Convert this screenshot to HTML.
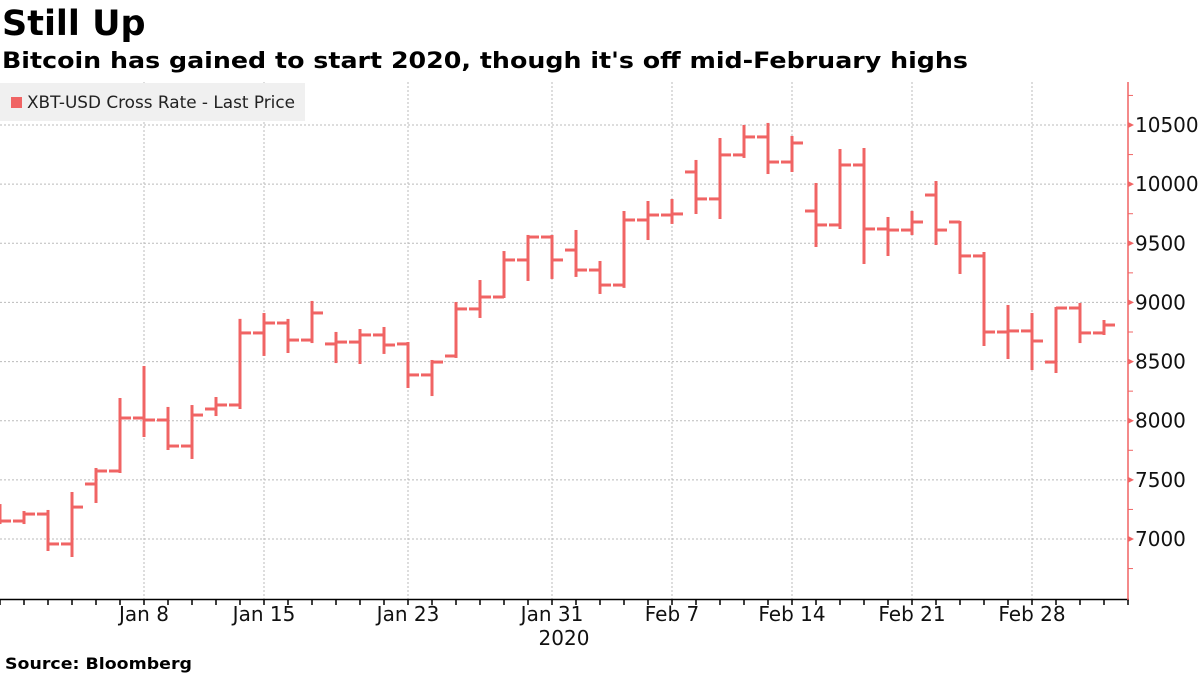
<!DOCTYPE html>
<html><head><meta charset="utf-8"><style>
body{margin:0;background:#fff;}
svg{display:block;font-family:"DejaVu Sans","Liberation Sans",sans-serif;}
</style></head><body>
<svg id="c" width="1200" height="675" viewBox="0 0 1200 675">
<text x="2" y="35" font-size="35" font-weight="bold" fill="#000">Still Up</text>
<text x="2" y="68" font-size="22" font-weight="bold" fill="#000" textLength="966" lengthAdjust="spacingAndGlyphs">Bitcoin has gained to start 2020, though it's off mid-February highs</text>
<g id="grid"></g>
<g id="legend">
<rect x="0" y="83" width="305" height="38" fill="#f0f0f0"/>
<rect x="11" y="97" width="11" height="11" fill="#f06464"/>
<text x="27" y="108" font-size="17" fill="#222" textLength="268" lengthAdjust="spacingAndGlyphs">XBT-USD Cross Rate - Last Price</text>
</g>
<g id="bars"></g>
<g id="axes"></g>
<text x="5" y="669" font-size="16" font-weight="bold" fill="#000" textLength="187" lengthAdjust="spacingAndGlyphs">Source: Bloomberg</text>
</svg>
<script>
const opens  = [7250,7152,7211,6958,7465,7575,8023,8006,7786,8099,8133,8742,8826,8682,8649,8665,8725,8649,8387,8547,8945,9046,9359,9553,9443,9274,9147,9697,9739,10103,9875,10247,10399,10187,9773,9655,10162,9621,9612,9908,9680,9393,8750,8759,8496,8953,8742];
const highs  = [7287,7228,7237,7389,7592,8184,8454,8108,8124,8192,8852,8902,8852,9004,8742,8767,8784,8657,8505,8995,9181,9426,9562,9562,9604,9342,9765,9849,9866,10196,10382,10492,10509,10399,10001,10289,10297,9714,9765,10018,9680,9418,8970,8902,8953,8987,8843];
const lows   = [7135,7135,6907,6856,7313,7566,7871,7761,7685,8048,8108,8556,8581,8665,8496,8488,8573,8285,8217,8539,8877,9046,9190,9207,9224,9080,9131,9536,9672,9756,9714,10230,10094,10111,9477,9629,9333,9401,9578,9494,9249,8640,8530,8437,8412,8665,8733];
const closes = [7152,7211,6958,7270,7575,8023,8006,7786,8048,8133,8742,8826,8682,8911,8665,8725,8640,8387,8496,8945,9046,9359,9553,9359,9274,9147,9697,9739,9748,9875,10247,10399,10187,10348,9655,10162,9621,9612,9680,9612,9393,8750,8759,8674,8953,8742,8809];
const yTicks = [7000,7500,8000,8500,9000,9500,10000,10500];
const xLabels = ["Jan 8","Jan 15","Jan 23","Jan 31","Feb 7","Feb 14","Feb 21","Feb 28"];
const xLabelIdx = [6,11,17,23,28,33,38,43];

const NS="http://www.w3.org/2000/svg";
const y = v => 539 - (v-7000)*414/3500;
const x = i => 24*i;
function mk(tag, attrs, parent){const e=document.createElementNS(NS,tag);for(const k in attrs)e.setAttribute(k,attrs[k]);parent.appendChild(e);return e;}
const grid=document.getElementById('grid'), bars=document.getElementById('bars'), axes=document.getElementById('axes');

yTicks.forEach(v=>{
  const l=mk('line',{x1:0,x2:1128,y1:y(v),y2:y(v),stroke:'#bbb','stroke-dasharray':'2,2','stroke-width':1},grid);
  
  
  const t=mk('text',{x:1135,y:y(v)+7,'font-size':20,fill:'#111'},axes);
  t.textContent=v;
  
  
  const tri=mk('path',{d:`M1128 ${y(v)-3} L1134 ${y(v)} L1128 ${y(v)+3}Z`,fill:'#f06464'},axes);
  
  
});
for(let v=6750; v<=10750; v+=500){
  const m=mk('line',{x1:1128,x2:1133,y1:y(v),y2:y(v),stroke:'#f06464','stroke-width':1},axes);
  
  
}
xLabelIdx.forEach((i,k)=>{
  const l=mk('line',{x1:x(i),x2:x(i),y1:82,y2:599,stroke:'#bbb','stroke-dasharray':'2,2','stroke-width':1},grid);
  
  
  const t=mk('text',{x:x(i),y:621,'font-size':20,fill:'#111','text-anchor':'middle'},axes);
  t.textContent=xLabels[k];
  
  
});
const yr=mk('text',{x:x(23)+12,y:645,'font-size':20,fill:'#111','text-anchor':'middle'},axes);
yr.textContent='2020';



const ax=mk('line',{x1:0,x2:1129,y1:599.5,y2:599.5,stroke:'#000','stroke-width':1.5},axes);


for(let i=0;i<=47;i++){
  const tk=mk('line',{x1:x(i),x2:x(i),y1:599,y2:605,stroke:'#000','stroke-width':1.5},axes);
  
  
}
const ry=mk('line',{x1:1128,x2:1128,y1:82,y2:600,stroke:'#f06464','stroke-width':1.5},axes);



opens.forEach((o,i)=>{
  const g=mk('g',{stroke:'#f06464','stroke-width':3,fill:'none'},bars);
  
  
  mk('line',{x1:x(i),x2:x(i),y1:y(highs[i])-1,y2:y(lows[i])+1},g);
  mk('line',{x1:x(i)-11,x2:x(i),y1:y(o),y2:y(o)},g);
  mk('line',{x1:x(i),x2:x(i)+11,y1:y(closes[i]),y2:y(closes[i])},g);
});
</script>
</body></html>
